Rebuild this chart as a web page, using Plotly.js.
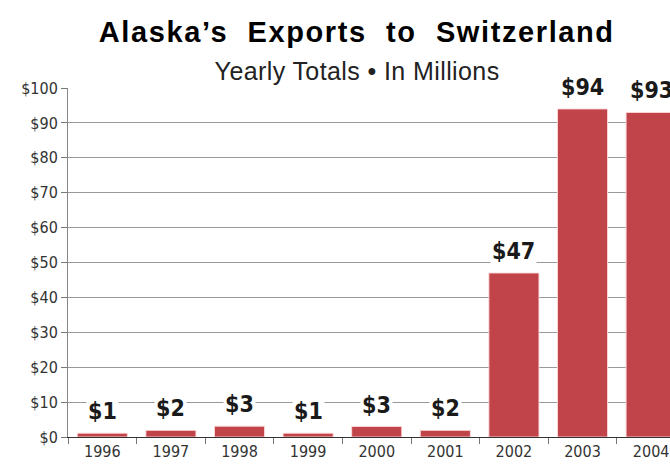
<!DOCTYPE html>
<html><head><meta charset="utf-8">
<script src="https://cdn.plot.ly/plotly-3.0.1.min.js"></script>
<style>html,body{margin:0;padding:0;background:#fff}#c{width:670px;height:464px}
g.annotation[data-index="9"] text{letter-spacing:1.6px}
g.annotation[data-index="10"] text{letter-spacing:0.4px}
</style>
</head><body><div id="c"></div>
<script>
const years = ["1996","1997","1998","1999","2000","2001","2002","2003","2004"];
const exportsMillions = [1.1, 1.9, 3.1, 1.1, 3.0, 1.9, 47, 94, 93];
const valueLabels = ["$1","$2","$3","$1","$3","$2","$47","$94","$93"];
const yTickVals = [0,10,20,30,40,50,60,70,80,90,100];
const yTickText = ["$0","$10","$20","$30","$40","$50","$60","$70","$80","$90","$100"];

const trace = {
  type: "bar", x: years, y: exportsMillions,
  marker: {color: "#c1444a", line: {color: "rgba(255,220,220,0.9)", width: 1}},
  hoverinfo: "skip"
};

const annotations = years.map((yr, i) => ({
  x: i, y: exportsMillions[i], xref: "x", yref: "y",
  text: valueLabels[i], showarrow: false, yshift: 22,
  xanchor: "center", yanchor: "middle",
  font: {family: "DejaVu Sans Condensed, DejaVu Sans", size: 23, color: "#1a1a1a", weight: "bold"},
  bgcolor: "#ffffff", borderpad: 1
}));
annotations.push({
  xref: "paper", yref: "paper", x: 0.48, y: 1, yshift: 56,
  xanchor: "center", yanchor: "middle", showarrow: false,
  text: "Alaska’s  Exports  to  Switzerland",
  font: {family: "Liberation Sans, Arial", size: 29, color: "#000", weight: "bold"}
});
annotations.push({
  xref: "paper", yref: "paper", x: 0.48, y: 1, yshift: 17,
  xanchor: "center", yanchor: "middle", showarrow: false,
  text: "Yearly Totals • In Millions",
  font: {family: "Liberation Sans, Arial", size: 25, color: "#222"}
});

const tickFont = {family: "DejaVu Sans Condensed, DejaVu Sans", size: 16, color: "#333"};
const layout = {
  width: 670, height: 464,
  margin: {l: 68, r: 0, t: 88, b: 27},
  paper_bgcolor: "#fff", plot_bgcolor: "#fff",
  bargap: 0.27, showlegend: false,
  xaxis: {
    type: "category", range: [-0.5, 8.275],
    tickmode: "array", tickvals: years, ticktext: years,
    ticks: "outside", ticklen: 6, tickcolor: "#777", tickson: "boundaries",
    showline: true, linecolor: "#333", linewidth: 1, showgrid: false,
    tickfont: tickFont, fixedrange: true
  },
  yaxis: {
    range: [0, 100], tickmode: "array", tickvals: yTickVals, ticktext: yTickText,
    ticks: "outside", ticklen: 6, tickcolor: "#777",
    showline: true, linecolor: "#888", linewidth: 1,
    showgrid: true, gridcolor: "#999", gridwidth: 1, zeroline: false,
    tickfont: tickFont, fixedrange: true
  },
  annotations: annotations
};
Plotly.newPlot("c", [trace], layout, {displayModeBar: false, staticPlot: true});
</script></body></html>
